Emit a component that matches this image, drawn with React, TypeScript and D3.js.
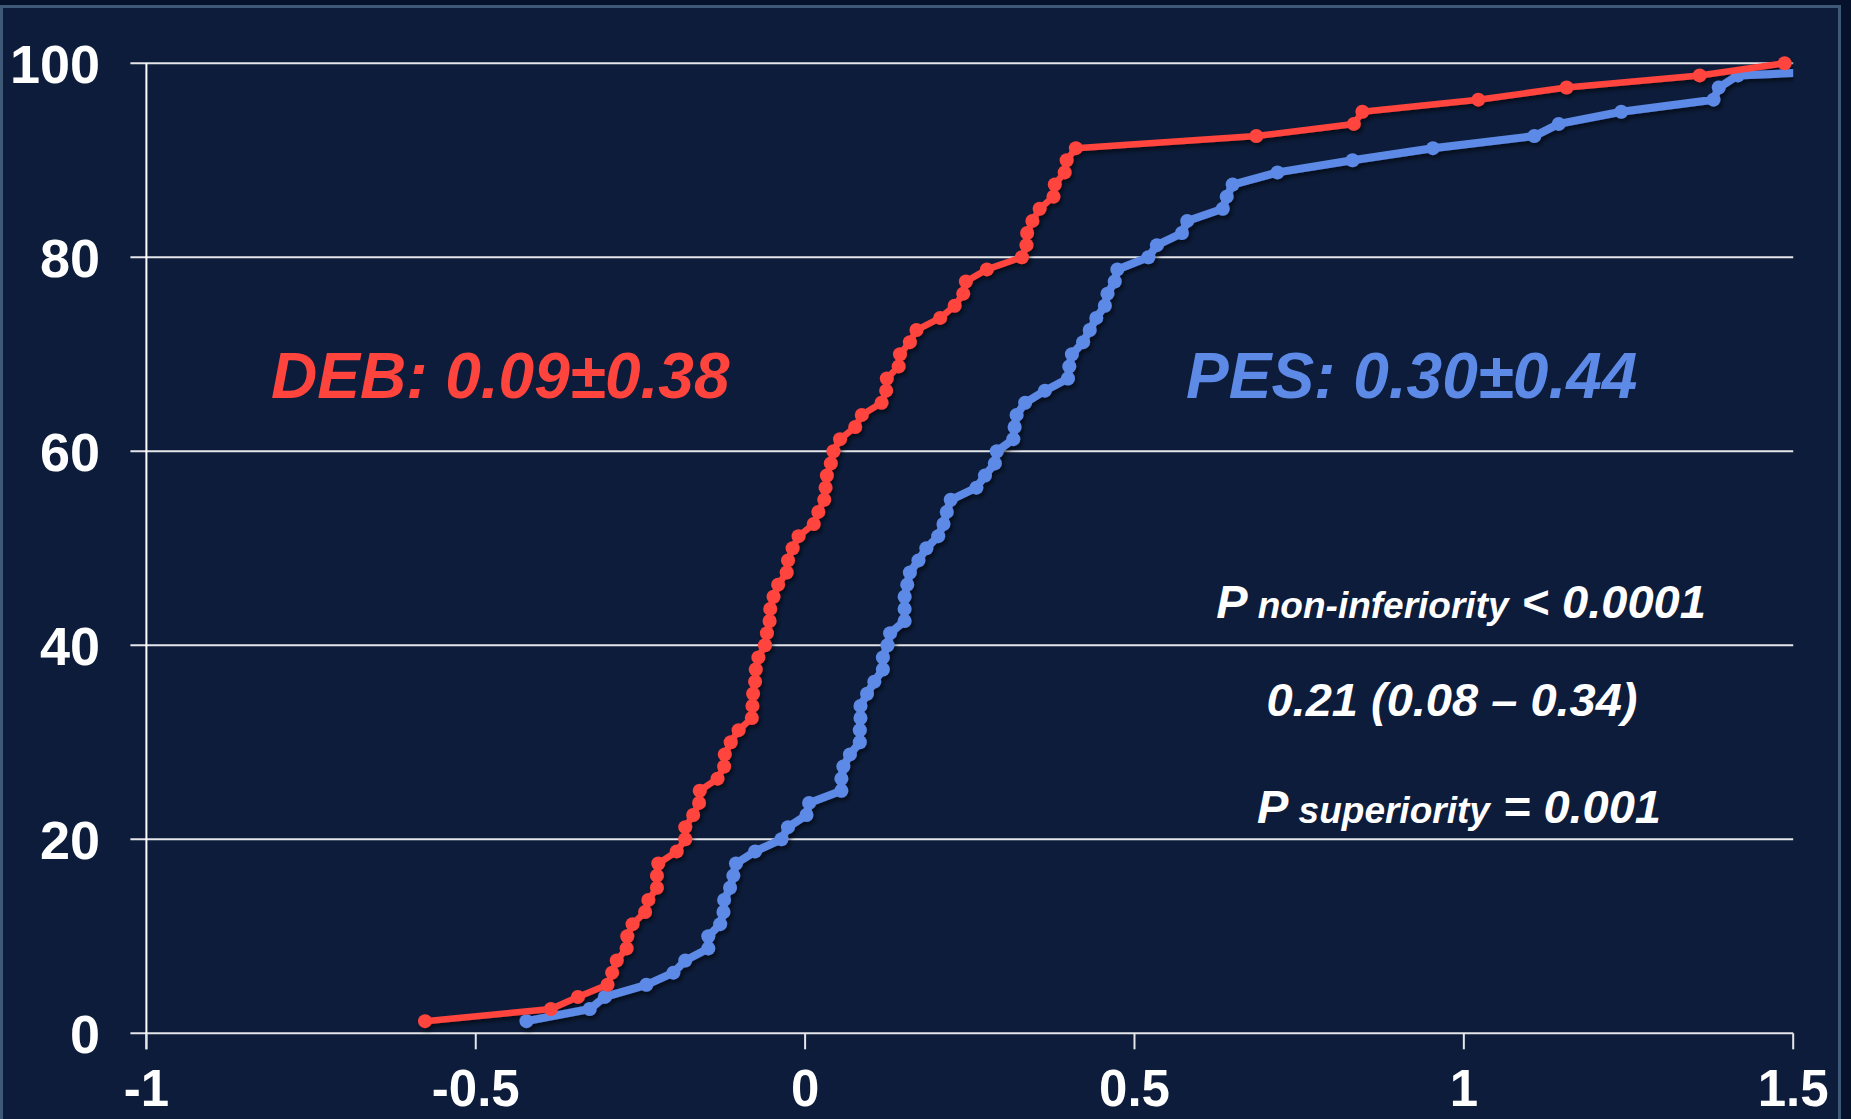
import React from "react";
import * as d3 from "d3";

// cumulative % of patients (80 per arm)
const cumPct = [
  1.25, 2.5, 3.75, 5, 6.25, 7.5, 8.75, 10, 11.25, 12.5,
  13.75, 15, 16.25, 17.5, 18.75, 20, 21.25, 22.5, 23.75, 25,
  26.25, 27.5, 28.75, 30, 31.25, 32.5, 33.75, 35, 36.25, 37.5,
  38.75, 40, 41.25, 42.5, 43.75, 45, 46.25, 47.5, 48.75, 50,
  51.25, 52.5, 53.75, 55, 56.25, 57.5, 58.75, 60, 61.25, 62.5,
  63.75, 65, 66.25, 67.5, 68.75, 70, 71.25, 72.5, 73.75, 75,
  76.25, 77.5, 78.75, 80, 81.25, 82.5, 83.75, 85, 86.25, 87.5,
  88.75, 90, 91.25, 92.5, 93.75, 95, 96.25, 97.5, 98.75, 100,
];

const debValues = [
  -0.577, -0.386, -0.345, -0.3, -0.293, -0.286, -0.271, -0.27, -0.262, -0.243,
  -0.238, -0.225, -0.225, -0.223, -0.195, -0.182, -0.182, -0.17, -0.161, -0.16,
  -0.133, -0.123, -0.122, -0.113, -0.101, -0.081, -0.08, -0.079, -0.076, -0.075,
  -0.071, -0.061, -0.058, -0.054, -0.053, -0.048, -0.041, -0.028, -0.026, -0.019,
  -0.01, 0.013, 0.02, 0.029, 0.031, 0.033, 0.039, 0.043, 0.053, 0.076,
  0.086, 0.116, 0.123, 0.124, 0.142, 0.144, 0.159, 0.169, 0.205, 0.227,
  0.24, 0.244, 0.276, 0.329, 0.336, 0.337, 0.345, 0.356, 0.377, 0.379,
  0.394, 0.397, 0.411, 0.685, 0.833, 0.846, 1.022, 1.156, 1.358, 1.487,
];

const pesValues = [
  -0.423, -0.327, -0.304, -0.241, -0.2, -0.182, -0.147, -0.147, -0.129, -0.124,
  -0.123, -0.114, -0.109, -0.105, -0.076, -0.036, -0.026, 0.002, 0.006, 0.055,
  0.055, 0.058, 0.068, 0.083, 0.083, 0.084, 0.084, 0.094, 0.105, 0.118,
  0.118, 0.125, 0.129, 0.151, 0.151, 0.151, 0.155, 0.159, 0.172, 0.184,
  0.202, 0.21, 0.215, 0.221, 0.26, 0.273, 0.288, 0.291, 0.316, 0.318,
  0.321, 0.334, 0.364, 0.399, 0.401, 0.405, 0.422, 0.432, 0.442, 0.455,
  0.459, 0.47, 0.474, 0.521, 0.534, 0.572, 0.58, 0.634, 0.64, 0.649,
  0.717, 0.831, 0.953, 1.107, 1.144, 1.239, 1.379, 1.387, 1.416, 1.84,
];

const xTicks = [-1, -0.5, 0, 0.5, 1, 1.5];
const xTickLabels = ["-1", "-0.5", "0", "0.5", "1", "1.5"];
const yTicks = [0, 20, 40, 60, 80, 100];

const RED = "#ff443d";
const BLUE = "#5d8ae6";
const FONT = "'Liberation Sans', Arial, sans-serif";

const W = 1851;
const H = 1119;

export default function App() {
  const x = d3.scaleLinear().domain([-1, 1.5]).range([146.4, 1793.2]);
  const y = d3.scaleLinear().domain([0, 100]).range([1033.3, 63.3]);

  const deb = debValues.map((v, i) => [v, cumPct[i]] as [number, number]);
  const pes = pesValues.map((v, i) => [v, cumPct[i]] as [number, number]);

  const line = d3
    .line<[number, number]>()
    .x((d) => x(d[0]))
    .y((d) => y(d[1]));

  const x0 = x(-1);
  const x1 = x(1.5);
  const yBase = y(0);

  return (
    <svg
      width={W}
      height={H}
      style={{ position: "absolute", left: 0, top: 0, display: "block" }}
    >
      <defs>
        <filter id="shadow" x="-5%" y="-5%" width="110%" height="110%">
          <feDropShadow dx="2" dy="3" stdDeviation="2" floodColor="#000" floodOpacity="0.55" />
        </filter>
        <clipPath id="plotClip">
          <rect x={x0 - 20} y={0} width={x1 - x0 + 20} height={H} />
        </clipPath>
      </defs>

      <rect x={0} y={0} width={W} height={H} fill="#06122b" />
      <rect
        x={1.5}
        y={6.5}
        width={1838}
        height={1116}
        fill="#0c1c3a"
        stroke="#3e5878"
        strokeWidth={3}
      />

      {/* gridlines + y ticks */}
      {yTicks.map((t) => (
        <g key={t}>
          <line
            x1={x0 - 16}
            x2={x1}
            y1={y(t)}
            y2={y(t)}
            stroke="#e4e6ea"
            strokeWidth={2}
          />
          <text
            x={100}
            y={y(t)}
            dy="0.36em"
            textAnchor="end"
            fill="#fff"
            fontFamily={FONT}
            fontWeight="bold"
            fontSize={54}
          >
            {t}
          </text>
        </g>
      ))}

      {/* y axis */}
      <line x1={x0} x2={x0} y1={y(100)} y2={yBase + 16} stroke="#fff" strokeWidth={2} />

      {/* x ticks */}
      {xTicks.map((t, i) => (
        <g key={t}>
          <line x1={x(t)} x2={x(t)} y1={yBase} y2={yBase + 16} stroke="#e4e6ea" strokeWidth={2} />
          <text
            x={x(t)}
            y={1106}
            textAnchor="middle"
            fill="#fff"
            fontFamily={FONT}
            fontWeight="bold"
            fontSize={51}
          >
            {xTickLabels[i]}
          </text>
        </g>
      ))}

      {/* series */}
      <g clipPath="url(#plotClip)" filter="url(#shadow)">
        <path d={line(pes) || ""} fill="none" stroke={BLUE} strokeWidth={8} strokeLinejoin="round" />
        {pes.map((d, i) => (
          <circle key={"p" + i} cx={x(d[0])} cy={y(d[1])} r={7} fill={BLUE} />
        ))}
        <path d={line(deb) || ""} fill="none" stroke={RED} strokeWidth={6.5} strokeLinejoin="round" />
        {deb.map((d, i) => (
          <circle key={"d" + i} cx={x(d[0])} cy={y(d[1])} r={7} fill={RED} />
        ))}
      </g>

      {/* labels */}
      <text
        x={271}
        y={398}
        fill={RED}
        fontFamily={FONT}
        fontWeight="bold"
        fontStyle="italic"
        fontSize={64}
      >
        DEB: 0.09±0.38
      </text>
      <text
        x={1186}
        y={398}
        fill={BLUE}
        fontFamily={FONT}
        fontWeight="bold"
        fontStyle="italic"
        fontSize={64}
      >
        PES: 0.30±0.44
      </text>

      <g fill="#fff" fontFamily={FONT} fontWeight="bold" fontStyle="italic" textAnchor="middle">
        <text x={1461} y={618} fontSize={47}>
          P<tspan fontSize={37}> non-inferiority</tspan> &lt; 0.0001
        </text>
        <text x={1452} y={716} fontSize={47}>
          0.21 (0.08 – 0.34)
        </text>
        <text x={1459} y={823} fontSize={47}>
          P<tspan fontSize={37}> superiority</tspan> = 0.001
        </text>
      </g>
    </svg>
  );
}
